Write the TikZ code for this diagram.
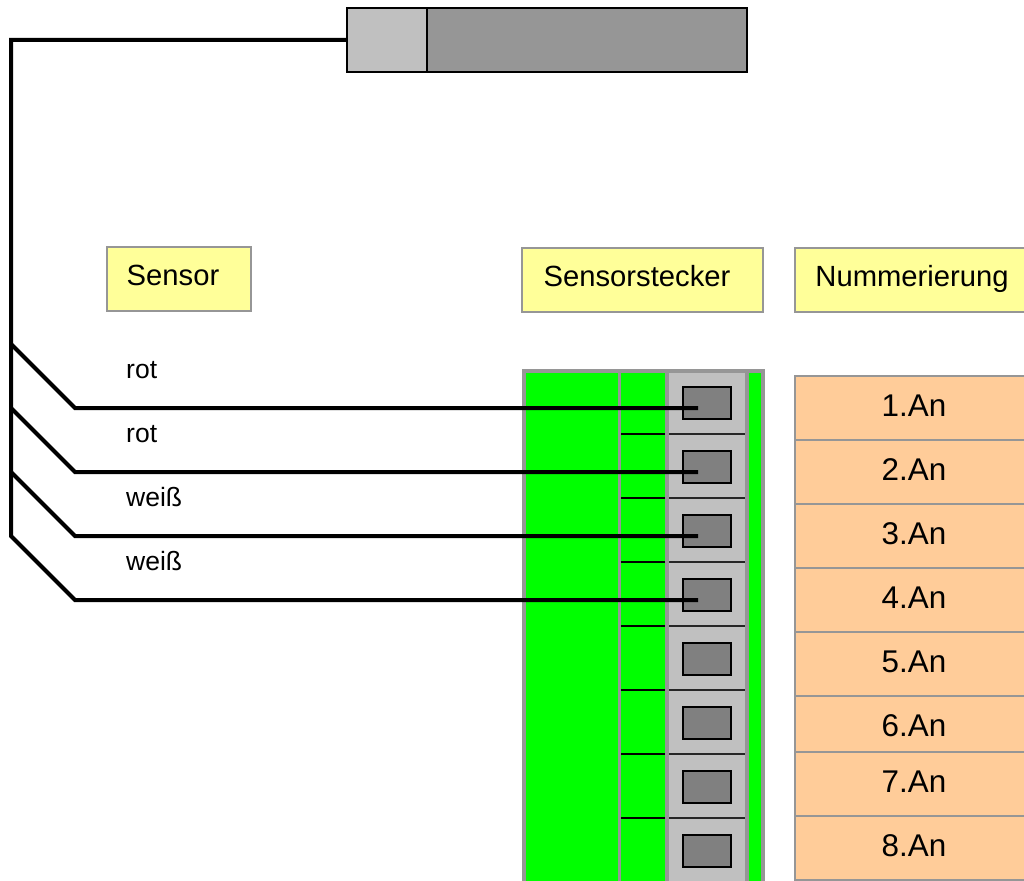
\documentclass[tikz,border=0pt]{standalone}
\usepackage{fontspec}
\setmainfont{Liberation Sans}
\usepackage{tikz}

\definecolor{Frame}{HTML}{969696}
\definecolor{Light}{HTML}{C0C0C0}
\definecolor{Pin}{HTML}{808080}
\definecolor{Plug}{HTML}{00FF00}
\definecolor{Note}{HTML}{FFFF99}
\definecolor{Count}{HTML}{FFCC99}

\tikzset{
    wire/.style={line width=4pt, black, line join=miter},
    tagbox/.style={draw=Frame, line width=2pt, fill=Note, inner sep=0pt, outer sep=0pt},
    countbox/.style={draw=Frame, line width=2pt, fill=Count, inner sep=0pt, outer sep=0pt},
    pinbox/.style={draw=black, line width=2pt, fill=Pin, inner sep=0pt, outer sep=0pt, minimum width=48pt, minimum height=32pt},
    bigtext/.style={anchor=base, inner sep=0pt, font=\fontsize{29.2}{33}\selectfont},
    numtext/.style={anchor=base, inner sep=0pt, font=\fontsize{31.4}{35}\selectfont},
    smalltext/.style={anchor=base west, inner sep=0pt, font=\fontsize{26.5}{30}\selectfont},
}

\begin{document}
\begin{tikzpicture}[x=1pt,y=-1pt]
\useasboundingbox (0,0) rectangle (1024,880);
\def\P{64}
\def\B{892}

% Draw the sensor head
\node[draw=black, line width=2pt, fill=Light, inner sep=0pt, outer sep=0pt, minimum width=80pt, minimum height=64pt] (head) at (387,40) {};
\node[draw=black, line width=2pt, fill=Frame, inner sep=0pt, outer sep=0pt, minimum width=320pt, minimum height=64pt] (body) at (587,40) {};

% Draw the labels
\node[tagbox, minimum width=144pt, minimum height=64pt] (sensorbox) at (179,279) {};
\node[tagbox, minimum width=241pt, minimum height=64pt] (plugbox) at (642.5,280) {};
\node[tagbox, minimum width=232pt, minimum height=64pt] (numberbox) at (911,280) {};
\node[bigtext] (sensortext) at (173,285) {Sensor};
\node[bigtext] (plugtext) at (637,286) {Sensorstecker};
\node[bigtext] (numbertext) at (912,286) {Nummerierung};

% Draw the plug
\fill[Frame] (522,369) rectangle (765,\B);
\fill[Plug] (525.5,372.5) rectangle (617.5,\B);
\fill[Plug] (621,372.5) rectangle (665,\B);
\fill[Light] (669,372.5) rectangle (745,\B);
\fill[Plug] (749,372.5) rectangle (761,\B);

% Draw the separators
\foreach \i in {0,...,6} {
    \draw[black, line width=2pt] (621,434+\i*\P) -- (665,434+\i*\P);
    \draw[black!85, line width=2pt] (669,434+\i*\P) -- (745,434+\i*\P);
}

% Draw the pins
\foreach \i in {1,...,8} {
    \node[pinbox] (pin\i) at (707,403+\i*\P-\P) {};
    \coordinate (end\i) at (698,408+\i*\P-\P);
}

% Draw the numbering
\foreach \n/\t/\b/\y in {1/376/440/416.5, 2/440/504/480.5, 3/504/568/544.5, 4/568/632/608.5, 5/632/696/672, 6/696/752/736, 7/752/816/792, 8/816/880/856} {
    \node[countbox, minimum width=232pt, minimum height={(\b-\t)*1pt}] (count\n) at (911,{(\t+\b)/2}) {};
    \node[numtext] (counttext\n) at (914,\y) {\n.An};
}

% Draw the wires
\coordinate (corner) at (11,40);
\draw[wire] (head.west) -- (corner) -- (11,536) -- (75,600) -- (end4);
\foreach \i/\y in {1/344, 2/408, 3/472} {
    \coordinate (fork\i) at (11,\y);
    \draw[wire] (fork\i) -- (75,\y+64) -- (end\i);
}

% Wire colours
\node[smalltext] (rot1) at (126,378) {rot};
\node[smalltext] (rot2) at (126,442) {rot};
\node[smalltext] (weiss1) at (126,506) {weiß};
\node[smalltext] (weiss2) at (126,570) {weiß};
\end{tikzpicture}
\end{document}
